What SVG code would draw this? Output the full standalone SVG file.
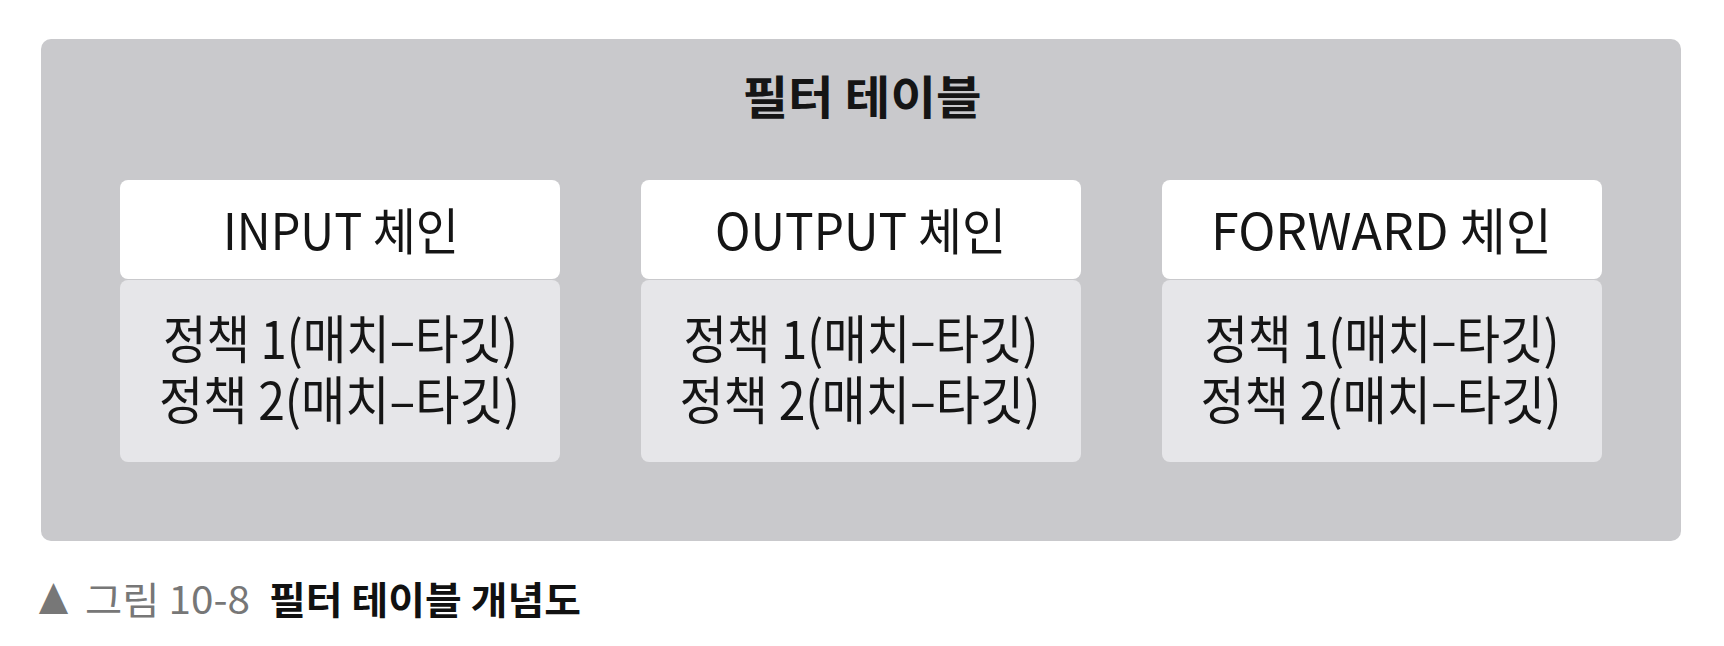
<svg xmlns="http://www.w3.org/2000/svg" width="1724" height="646" viewBox="0 0 1724 646">
<style>
  text { font-family: "Noto Sans CJK KR", "Noto Sans", sans-serif; fill: #151515; }
  .title { font-size: 46px; font-weight: 700; }
  .head { font-size: 50px; font-weight: 400; }
  .body { font-size: 52px; font-weight: 400; }
  .cap { font-size: 38px; }
  .capg { fill: #777777; font-weight: 400; }
  .capb { fill: #111111; font-weight: 700; }
  .hdr { fill: #ffffff; }
  .bdy { fill: #e6e6e9; }
</style>
<rect id="table" x="41" y="39" width="1640" height="502" rx="10" fill="#c9c9cc"/>
<text id="title" class="title" x="862" y="114" text-anchor="middle" textLength="239" lengthAdjust="spacingAndGlyphs">필터 테이블</text>
<g id="connectors"></g>
<g id="input-chain">
  <rect class="hdr" x="120" y="180" width="440" height="99" rx="8"/>
  <rect class="bdy" x="120" y="280" width="440" height="182" rx="8"/>
  <text class="head" x="341" y="250" text-anchor="middle" textLength="236" lengthAdjust="spacingAndGlyphs">INPUT 체인</text>
  <text class="body" text-anchor="middle"><tspan x="340.5" y="359" textLength="355" lengthAdjust="spacingAndGlyphs">정책 1(매치–타깃)</tspan><tspan x="339.5" y="420" textLength="361" lengthAdjust="spacingAndGlyphs">정책 2(매치–타깃)</tspan></text>
</g>
<g id="output-chain">
  <rect class="hdr" x="641" y="180" width="440" height="99" rx="8"/>
  <rect class="bdy" x="641" y="280" width="440" height="182" rx="8"/>
  <text class="head" x="860.5" y="250" text-anchor="middle" textLength="291" lengthAdjust="spacingAndGlyphs">OUTPUT 체인</text>
  <text class="body" text-anchor="middle"><tspan x="861" y="359" textLength="355" lengthAdjust="spacingAndGlyphs">정책 1(매치–타깃)</tspan><tspan x="860" y="420" textLength="361" lengthAdjust="spacingAndGlyphs">정책 2(매치–타깃)</tspan></text>
</g>
<g id="forward-chain">
  <rect class="hdr" x="1162" y="180" width="440" height="99" rx="8"/>
  <rect class="bdy" x="1162" y="280" width="440" height="182" rx="8"/>
  <text class="head" x="1381.5" y="250" text-anchor="middle" textLength="341" lengthAdjust="spacingAndGlyphs">FORWARD 체인</text>
  <text class="body" text-anchor="middle"><tspan x="1382" y="359" textLength="355" lengthAdjust="spacingAndGlyphs">정책 1(매치–타깃)</tspan><tspan x="1381" y="420" textLength="361" lengthAdjust="spacingAndGlyphs">정책 2(매치–타깃)</tspan></text>
</g>
<g id="caption">
  <text class="cap capg" x="38" y="614" textLength="31" lengthAdjust="spacingAndGlyphs">▲</text>
  <text class="cap capg" x="85" y="614" textLength="165" lengthAdjust="spacingAndGlyphs">그림 10-8</text>
  <text class="cap capb" x="269" y="614" textLength="312" lengthAdjust="spacingAndGlyphs">필터 테이블 개념도</text>
</g>
</svg>
